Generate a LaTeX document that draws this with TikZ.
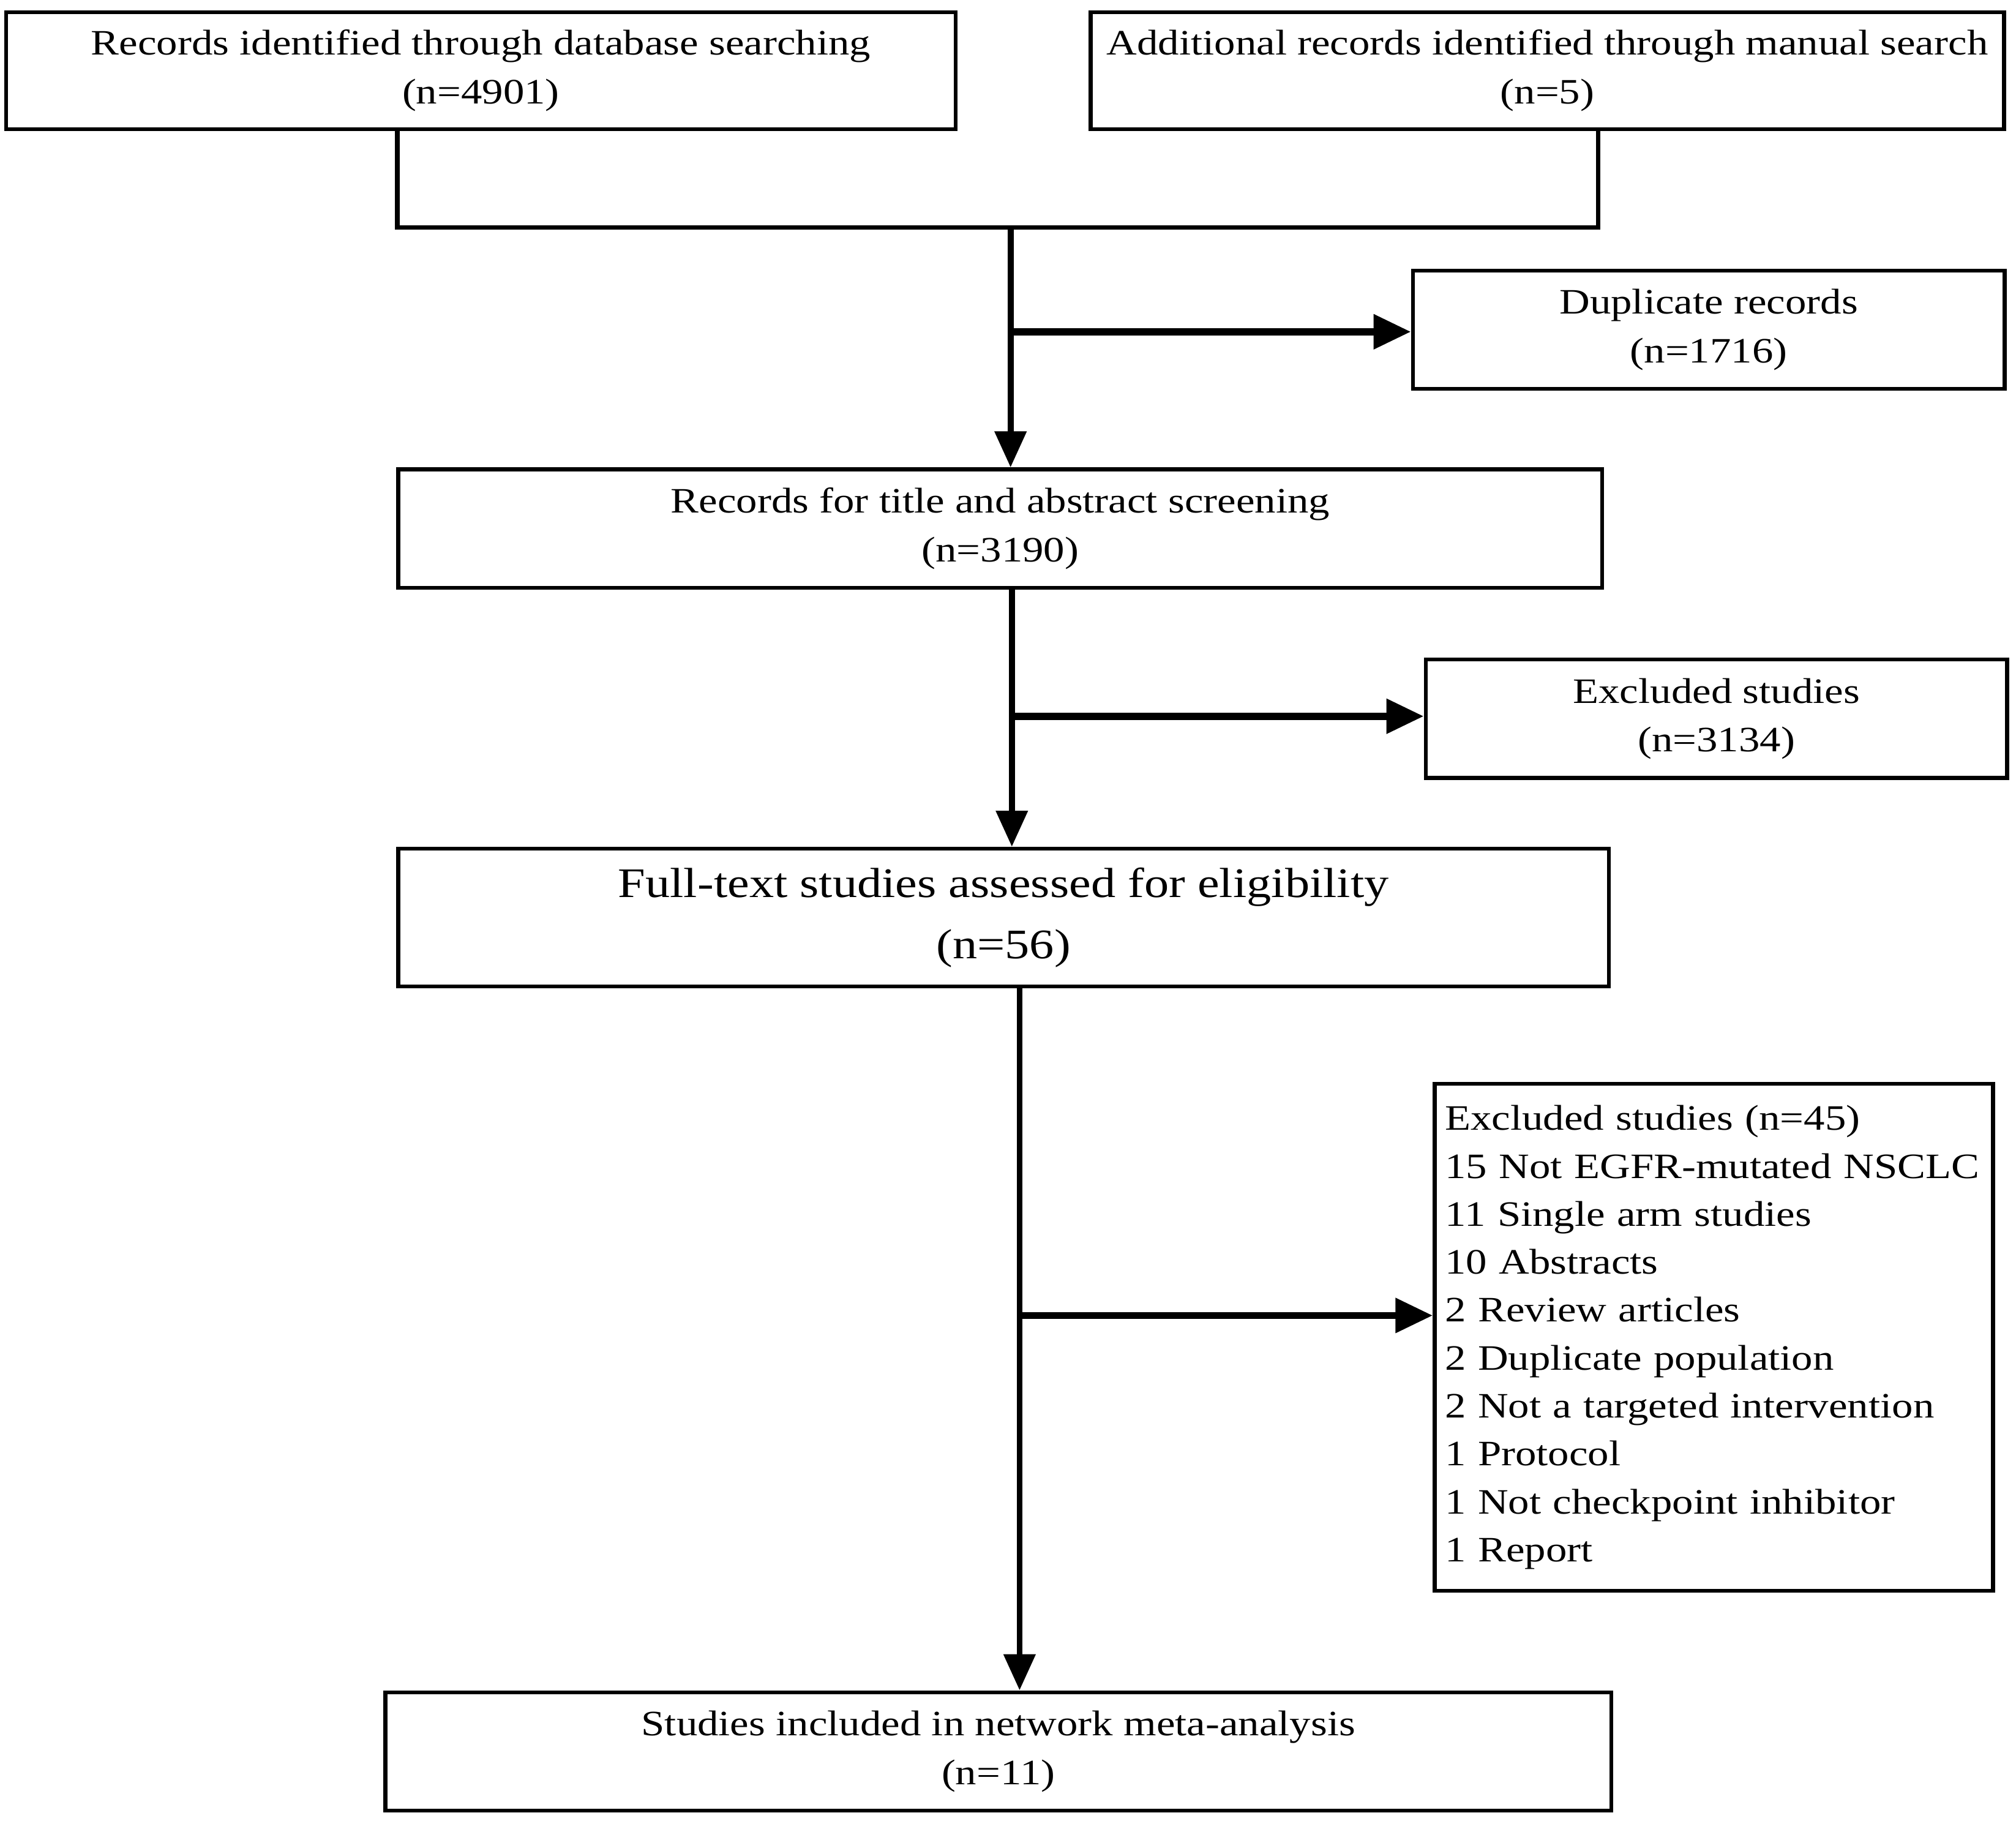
\documentclass[tikz,border=0pt]{standalone}
\usepackage{fontspec}
\newfontfamily\boxfont{Liberation Serif}[FakeStretch=1.18]
\newfontfamily\bigboxfont{Liberation Serif}[FakeStretch=1.17]
\usetikzlibrary{arrows.meta}
\begin{document}
\begin{tikzpicture}[x=0.01cm,y=-0.01cm,
  box/.style={draw=black,line width=0.85pt,fill=white,inner sep=0pt,align=center,
    font=\boxfont\fontsize{7.9pt}{10.8pt}\selectfont},
  bigbox/.style={box,font=\bigboxfont\fontsize{9.3pt}{13.6pt}\selectfont},
  listbox/.style={draw=black,line width=0.85pt,fill=white,inner xsep=0.08cm,inner ysep=0pt,
    align=left,font=\boxfont\fontsize{7.9pt}{10.6pt}\selectfont},
  joinline/.style={line width=1.0pt},
  mainline/.style={line width=1.3pt,-{Triangle[length=0.28cm,width=0.24cm]}},
  branchline/.style={line width=1.6pt,-{Triangle[length=0.29cm,width=0.26cm]}}]
\useasboundingbox (0,0) rectangle (1568,1416);

\node[box,minimum width=7.38cm,minimum height=0.91cm] (b1) at (374,55)
  {Records identified through database searching\\(n=4901)};
\node[box,minimum width=7.10cm,minimum height=0.91cm] (b2) at (1203.5,55)
  {Additional records identified through manual search\\(n=5)};
\node[box,minimum width=4.60cm,minimum height=0.92cm] (dup) at (1329,256.5)
  {Duplicate records\\(n=1716)};
\node[box,minimum width=9.36cm,minimum height=0.92cm] (b3) at (778,411)
  {Records for title and abstract screening\\(n=3190)};
\node[box,minimum width=4.52cm,minimum height=0.92cm] (exc1) at (1335,559)
  {Excluded studies\\(n=3134)};
\node[bigbox,minimum width=9.41cm,minimum height=1.07cm] (b4) at (780.5,713.5)
  {Full-text studies assessed for eligibility\\(n=56)};
\node[listbox,minimum width=4.34cm,minimum height=3.94cm,text width=4.18cm] (exc2) at (1333,1040)
  {Excluded studies (n=45)\\
   15 Not EGFR-mutated NSCLC\\
   11 Single arm studies\\
   10 Abstracts\\
   2 Review articles\\
   2 Duplicate population\\
   2 Not a targeted intervention\\
   1 Protocol\\
   1 Not checkpoint inhibitor\\
   1 Report};
\node[box,minimum width=9.53cm,minimum height=0.92cm] (b5) at (776.5,1362)
  {Studies included in network meta-analysis\\(n=11)};

\coordinate (m1) at (309,177);
\coordinate (m2) at (1243,177);
\coordinate (j1) at (786,177);
\coordinate (k1) at (786,258);
\coordinate (j2) at (787,557);
\coordinate (j3) at (793,1023);

\draw[joinline,line join=miter] (m1 |- b1.south) -- (m1) -- (m2) -- (m2 |- b2.south);
\draw[mainline] (j1) -- (j1 |- b3.north);
\draw[branchline] (k1) -- (k1 -| dup.west);
\draw[mainline] (j2 |- b3.south) -- (j2 |- b4.north);
\draw[branchline] (j2) -- (j2 -| exc1.west);
\draw[mainline] (j3 |- b4.south) -- (j3 |- b5.north);
\draw[branchline] (j3) -- (j3 -| exc2.west);
\end{tikzpicture}
\end{document}
